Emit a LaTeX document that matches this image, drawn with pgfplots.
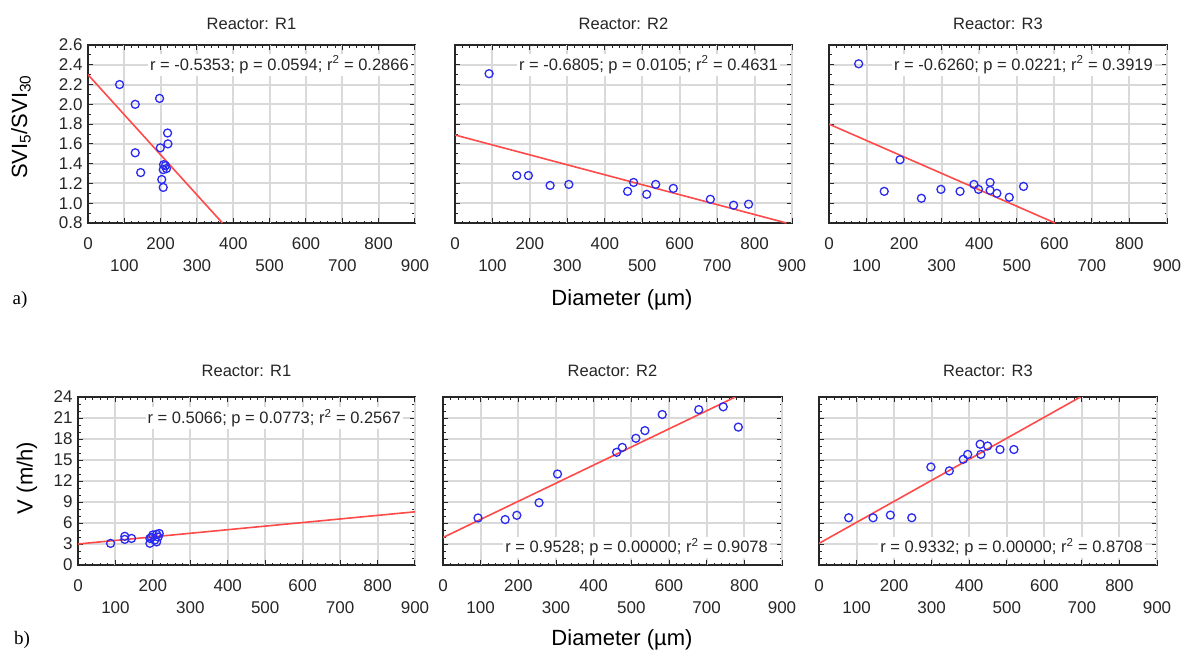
\documentclass[border=0pt]{standalone}
\usepackage{fontspec}
\setmainfont{Liberation Sans}
\newfontfamily\seriffont{Liberation Serif}
\usepackage{pgfplots}
\pgfplotsset{compat=1.18}

\definecolor{gridgray}{HTML}{D9D9D9}
\definecolor{frame}{HTML}{262626}
\definecolor{ptblue}{HTML}{2B2BF0}
\definecolor{fitred}{HTML}{FF4A4A}

\tikzset{
  note/.style={fill=white, inner sep=2pt, text=black!85, font=\fontsize{16.5}{19}\selectfont},
}
\pgfplotsset{
  panel/.style={
    scale only axis, anchor=north west,
    xmin=0, xmax=900,
    xtick={0,200,400,600,800},
    extra x ticks={100,300,500,700,900},
    xticklabel style={yshift=-11pt},
    extra x tick style={grid=major, xticklabel style={yshift=-22pt}},
    minor x tick num=9,
    grid=major, major grid style={gridgray, line width=2pt},
    axis line style={frame, line width=1.8pt},
    tick align=inside, major tick length=5pt, minor tick length=2.5pt,
    every tick/.style={frame, line width=1pt},
    ticklabel style={font=\fontsize{17}{19}\selectfont, text=black!85},
    yticklabel style={xshift=-2pt},
    /pgf/number format/assume math mode=true,
    title style={font=\fontsize{16.5}{19}\selectfont, text=black!85},
  },
  toprow/.style={
    panel, height=178pt,
    ymin=0.8, ymax=2.6, ytick={0.8,1.0,...,2.6}, minor y tick num=1,
    yticklabel style={/pgf/number format/.cd, fixed, fixed zerofill, precision=1},
    title style={yshift=6pt},
  },
  botrow/.style={
    panel, height=168pt,
    ymin=0, ymax=24, ytick={0,3,...,24}, minor y tick num=2,
    title style={yshift=11pt},
  },
  pts/.style={only marks, mark=o, mark size=4pt, ptblue, mark options={line width=1.3pt}},
  fitline/.style={fitred, line width=1.6pt, no marks},
}

\begin{document}
\begin{tikzpicture}
\useasboundingbox (0pt,0pt) rectangle (1189pt,-659pt);

% ---- a) SVI5/SVI30 ----
\begin{axis}[toprow, at={(88pt,-45pt)}, width=327pt, title={Reactor: R1}]
\addplot[pts] coordinates {
  (87,2.20)(130,2.00)(197,2.06)(130,1.51)(145,1.31)(219,1.71)(220,1.60)
  (199,1.56)(208,1.39)(213,1.38)(207,1.34)(216,1.35)(203,1.24)(207,1.16)
};
\addplot[fitline] coordinates {(0,2.30)(370,0.8)};
\node[note, anchor=east] at ([xshift=-4pt]rel axis cs:1,0.889)
  {r = -0.5353; p = 0.0594; r\textsuperscript{2} = 0.2866};
\end{axis}

\begin{axis}[toprow, at={(455pt,-45pt)}, width=337pt, yticklabels={}, title={Reactor: R2}]
\addplot[pts] coordinates {
  (91,2.31)(165,1.28)(196,1.28)(254,1.18)(304,1.19)(461,1.12)(477,1.21)
  (512,1.09)(536,1.19)(583,1.15)(682,1.04)(744,0.98)(784,0.99)
};
\addplot[fitline] coordinates {(0,1.69)(885,0.8)};
\node[note, anchor=east] at ([xshift=-12pt]rel axis cs:1,0.889)
  {r = -0.6805; p = 0.0105; r\textsuperscript{2} = 0.4631};
\end{axis}

\begin{axis}[toprow, at={(829pt,-45pt)}, width=338pt, yticklabels={}, title={Reactor: R3}]
\addplot[pts] coordinates {
  (79,2.41)(147,1.12)(189,1.44)(246,1.05)(298,1.14)(349,1.12)(386,1.19)
  (398,1.14)(429,1.21)(429,1.13)(447,1.10)(480,1.06)(518,1.17)
};
\addplot[fitline] coordinates {(0,1.80)(602,0.8)};
\node[note, anchor=east] at ([xshift=-12pt]rel axis cs:1,0.889)
  {r = -0.6260; p = 0.0221; r\textsuperscript{2} = 0.3919};
\end{axis}

% ---- b) V (m/h) ----
\begin{axis}[botrow, at={(78pt,-397pt)}, width=337pt, title={Reactor: R1}]
\addplot[pts] coordinates {
  (87,3.09)(125,4.10)(125,3.66)(143,3.80)(192,3.10)(196,3.95)(200,4.30)
  (205,3.56)(210,4.40)(214,4.00)(217,4.50)(210,3.30)(192,3.80)
};
\addplot[fitline] coordinates {(0,3.0)(900,7.6)};
\node[note, anchor=east] at ([xshift=-12pt]rel axis cs:1,0.875)
  {r = 0.5066; p = 0.0773; r\textsuperscript{2} = 0.2567};
\end{axis}

\begin{axis}[botrow, at={(443pt,-397pt)}, width=339pt, yticklabels={}, title={Reactor: R2}]
\addplot[pts] coordinates {
  (93,6.72)(165,6.49)(196,7.10)(255,8.90)(304,13.0)(461,16.1)(476,16.8)
  (512,18.1)(536,19.2)(582,21.5)(679,22.2)(744,22.6)(784,19.7)
};
\addplot[fitline] coordinates {(0,3.93)(776,24)};
\node[note, anchor=east] at ([xshift=-12pt]rel axis cs:1,0.104)
  {r = 0.9528; p = 0.00000; r\textsuperscript{2} = 0.9078};
\end{axis}

\begin{axis}[botrow, at={(819pt,-397pt)}, width=338pt, yticklabels={}, title={Reactor: R3}]
\addplot[pts] coordinates {
  (79,6.75)(144,6.75)(190,7.13)(247,6.75)(298,14.0)(347,13.45)(384,15.1)
  (396,15.8)(429,17.25)(431,15.8)(449,17.0)(482,16.5)(519,16.5)
};
\addplot[fitline] coordinates {(0,3.09)(696,24)};
\node[note, anchor=east] at ([xshift=-12pt]rel axis cs:1,0.104)
  {r = 0.9332; p = 0.00000; r\textsuperscript{2} = 0.8708};
\end{axis}

% ---- shared labels ----
\node[rotate=90, font=\fontsize{22}{26}\selectfont] at (21pt,-127pt)
  {SVI\textsubscript{5}/SVI\textsubscript{30}};
\node[rotate=90, font=\fontsize{22}{26}\selectfont] at (27pt,-478pt) {V (m/h)};
\node[font=\fontsize{22}{26}\selectfont] at (622pt,-300pt) {Diameter (µm)};
\node[font=\fontsize{22}{26}\selectfont] at (622pt,-640pt) {Diameter (µm)};
\node[font=\seriffont\fontsize{19}{22}\selectfont] at (20pt,-300pt) {a)};
\node[font=\seriffont\fontsize{19}{22}\selectfont] at (22pt,-640pt) {b)};
\end{tikzpicture}
\end{document}
